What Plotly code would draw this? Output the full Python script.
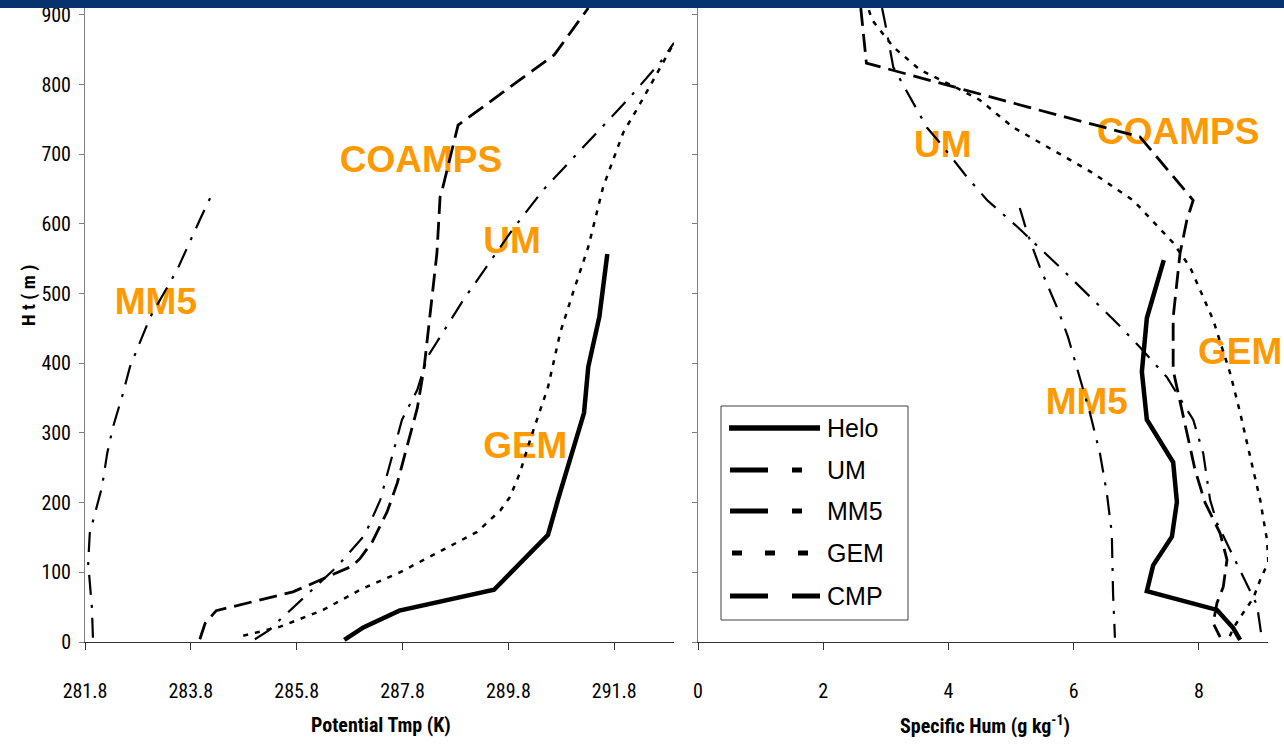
import plotly.graph_objects as go

# ---------------- data ----------------
# Left panel: potential temperature (K) against height (m)
theta_helo = [286.70, 287.06, 287.74, 289.53, 290.55, 290.74, 291.23, 291.31, 291.52, 291.67]
theta_helo_ht = [3, 21, 45, 75, 154, 205, 329, 395, 467, 557]

theta_um = [285.01, 285.26, 286.56, 287.09, 287.38, 287.68, 287.79, 288.08, 288.27, 288.95,
            289.87, 290.46, 291.21, 292.05, 292.67, 292.93]
theta_um_ht = [4, 16, 108, 154, 204, 287, 319, 362, 409, 491, 591, 649, 710, 778, 832, 860]

theta_mm5 = [281.95, 281.93, 281.86, 281.89, 281.99, 282.12, 282.22, 282.33, 282.50, 282.65,
             283.03, 283.54, 283.97, 284.22]
theta_mm5_ht = [6, 50, 113, 156, 185, 222, 271, 309, 352, 395, 466, 534, 606, 646]

theta_gem = [284.79, 285.49, 286.30, 287.00, 287.75, 288.45, 289.21, 289.65, 289.83, 290.02,
             290.21, 290.55, 290.78, 291.02, 291.31, 291.59, 291.97, 292.33, 292.93]
theta_gem_ht = [9, 22, 46, 75, 100, 128, 158, 189, 208, 243, 290, 366, 444, 501, 567, 653,
                731, 778, 860]

theta_cmp = [283.97, 284.07, 284.28, 285.73, 286.85, 287.00, 287.23, 287.51, 287.70, 288.08,
             288.21, 288.32, 288.45, 288.51, 288.55, 288.85, 290.67, 291.31]
theta_cmp_ht = [4, 27, 45, 72, 109, 120, 144, 187, 228, 336, 395, 472, 558, 639, 649, 742,
                843, 910]

# Right panel: specific humidity (g/kg) against height (m)
q_helo = [8.66, 8.55, 8.29, 7.17, 7.27, 7.57, 7.65, 7.59, 7.17, 7.09, 7.17, 7.44]
q_helo_ht = [3, 20, 46, 73, 110, 151, 201, 258, 319, 388, 465, 548]

q_um = [2.94, 2.99, 3.12, 3.39, 3.66, 3.87, 4.30, 4.62, 5.10, 5.78, 6.69, 7.06, 7.49, 7.91,
        8.07, 8.18, 8.29, 8.50, 8.74, 8.93, 9.01]
q_um_ht = [910, 888, 825, 782, 738, 716, 667, 634, 596, 538, 458, 423, 380, 319, 271, 204,
           171, 132, 89, 53, 3]

q_mm5 = [5.14, 5.26, 5.46, 5.75, 5.91, 6.10, 6.26, 6.42, 6.53, 6.61, 6.63, 6.66]
q_mm5_ht = [623, 587, 538, 477, 438, 380, 329, 271, 214, 156, 70, 6]

q_gem = [2.73, 2.78, 3.12, 3.55, 4.14, 4.50, 5.03, 5.67, 6.31, 6.95, 7.59, 7.86, 8.23, 8.50,
         8.66, 8.82, 8.98, 9.09, 9.11, 8.98, 8.87, 8.71, 8.55, 8.47]
q_gem_ht = [907, 893, 854, 821, 795, 778, 739, 706, 673, 634, 573, 538, 462, 386, 329, 266,
            204, 146, 115, 89, 63, 42, 20, 3]

q_cmp = [2.60, 2.69, 5.26, 7.06, 7.91, 7.81, 7.70, 7.59, 7.59, 7.73, 7.94, 8.10, 8.34, 8.45,
         8.39, 8.29, 8.23, 8.34]
q_cmp_ht = [910, 831, 768, 725, 634, 606, 558, 466, 390, 333, 247, 200, 156, 118, 79, 56, 27, 7]

# Orange model labels placed inside the panels
left_label_text = ["COAMPS", "UM", "MM5", "GEM"]
left_label_x = [288.15, 289.87, 283.14, 290.12]
left_label_y = [688, 572, 484, 278]
right_label_text = ["UM", "COAMPS", "GEM", "MM5"]
right_label_x = [3.91, 7.67, 8.66, 6.21]
right_label_y = [710, 728, 412, 340]

# Axis ticks
theta_ticks = [281.8, 283.8, 285.8, 287.8, 289.8, 291.8]
theta_tick_text = ["281.8", "283.8", "285.8", "287.8", "289.8", "291.8"]
q_ticks = [0, 2, 4, 6, 8]
ht_ticks = [0, 100, 200, 300, 400, 500, 600, 700, 800, 900]

legend_names = ["Helo", "UM", "MM5", "GEM", "CMP"]

# ---------------- styling ----------------
W, H = 1284, 746
L, R, T, B = 85, 16, 0, 104
PW, PH = W - L - R, H - T - B


def px(xp):
    return (xp - L) / PW


def py(yp):
    return (H - B - yp) / PH


NARROW = "Liberation Sans Narrow, Arial Narrow, Roboto Condensed, DejaVu Sans Condensed, sans-serif"
ARIAL = "Liberation Sans, Arial, Helvetica, sans-serif"
ORANGE = "#FF9900"

styles = {
    "Helo": dict(color="black", width=4.5, dash="solid"),
    "UM": dict(color="black", width=2.2, dash="20px,10px,3px,10px"),
    "MM5": dict(color="black", width=2.2, dash="20px,10px,3px,10px"),
    "GEM": dict(color="black", width=2.5, dash="5px,7px"),
    "CMP": dict(color="black", width=2.8, dash="18px,8px"),
}

fig = go.Figure()

# labels first so the profile lines are drawn over them
fig.add_trace(go.Scatter(x=left_label_x, y=left_label_y, mode="text",
                         text=["<b>%s</b>" % t for t in left_label_text],
                         textfont=dict(size=37, color=ORANGE, family=ARIAL),
                         cliponaxis=False, showlegend=False, hoverinfo="skip",
                         xaxis="x", yaxis="y"))
fig.add_trace(go.Scatter(x=right_label_x, y=right_label_y, mode="text",
                         text=["<b>%s</b>" % t for t in right_label_text],
                         textfont=dict(size=37, color=ORANGE, family=ARIAL),
                         cliponaxis=False, showlegend=False, hoverinfo="skip",
                         xaxis="x2", yaxis="y2"))

left_series = [("Helo", theta_helo, theta_helo_ht), ("UM", theta_um, theta_um_ht),
               ("MM5", theta_mm5, theta_mm5_ht), ("GEM", theta_gem, theta_gem_ht),
               ("CMP", theta_cmp, theta_cmp_ht)]
right_series = [("Helo", q_helo, q_helo_ht), ("UM", q_um, q_um_ht),
                ("MM5", q_mm5, q_mm5_ht), ("GEM", q_gem, q_gem_ht),
                ("CMP", q_cmp, q_cmp_ht)]

for name, xs, ys in left_series:
    fig.add_trace(go.Scatter(x=xs, y=ys, mode="lines", name=name, line=styles[name],
                             showlegend=False, xaxis="x", yaxis="y"))
for name, xs, ys in right_series:
    fig.add_trace(go.Scatter(x=xs, y=ys, mode="lines", name=name, line=styles[name],
                             showlegend=False, xaxis="x2", yaxis="y2"))

tickfont = dict(family=NARROW, size=20, color="black")
xcommon = dict(showgrid=False, zeroline=False, showline=True, linecolor="#333333", linewidth=1,
               ticks="outside", ticklen=7, tickcolor="#333333", tickwidth=1,
               tickfont=tickfont, ticklabelstandoff=24)
ycommon = dict(showgrid=False, zeroline=False, showline=True, linecolor="#808080", linewidth=1,
               ticks="outside", ticklen=5, tickcolor="#808080", tickwidth=1,
               tickfont=tickfont, tickvals=ht_ticks)

ymax = (H - B) / 0.6967

fig.update_layout(
    width=W, height=H, autosize=False,
    margin=dict(l=L, r=R, t=T, b=B, pad=0),
    paper_bgcolor="white", plot_bgcolor="white",
    showlegend=False,
    xaxis=dict(**xcommon, domain=[0, px(674)], range=[281.8, 292.93],
               tickvals=theta_ticks, ticktext=theta_tick_text, anchor="y"),
    xaxis2=dict(**xcommon, domain=[px(698), 1], range=[0, 9.105],
                tickvals=q_ticks, anchor="y2"),
    yaxis=dict(**ycommon, range=[0, ymax], anchor="x", ticklabelstandoff=4),
    yaxis2=dict(**ycommon, range=[0, ymax], anchor="x2", showticklabels=False),
)

shapes = []
annotations = []

# dark banner across the top edge
shapes.append(dict(type="rect", xref="paper", yref="paper", x0=px(0), x1=px(W),
                   y0=py(8), y1=py(0), fillcolor="#06336E", line=dict(width=0), layer="above"))

# legend box
shapes.append(dict(type="rect", xref="paper", yref="paper", x0=px(721), x1=px(908),
                   y0=py(620), y1=py(406), fillcolor="white",
                   line=dict(color="#404040", width=1), layer="above"))
legend_rows = [428, 470, 511, 553, 596]
legend_dash = {"Helo": "solid", "UM": "38px,24px,10px,40px", "MM5": "38px,24px,10px,40px",
               "GEM": "10px,23px", "CMP": "38px,24px"}
legend_x0 = {"Helo": 729, "UM": 730, "MM5": 730, "GEM": 732, "CMP": 730}
for name, yr in zip(legend_names, legend_rows):
    shapes.append(dict(type="line", xref="paper", yref="paper", x0=px(legend_x0[name]),
                       x1=px(820), y0=py(yr), y1=py(yr),
                       line=dict(color="black", width=5.5 if name == "Helo" else 5,
                                 dash=legend_dash[name]), layer="above"))
    annotations.append(dict(xref="paper", yref="paper", x=px(825), y=py(yr), text=name,
                            showarrow=False, xanchor="left", yanchor="middle",
                            font=dict(family=ARIAL, size=25, color="black")))

# axis titles
annotations.append(dict(xref="paper", yref="paper", x=px(381), y=py(725),
                        text="<b>Potential Tmp (K)</b>", showarrow=False,
                        xanchor="center", yanchor="middle",
                        font=dict(family=NARROW, size=20, color="black")))
annotations.append(dict(xref="paper", yref="paper", x=px(985), y=py(725),
                        text="<b>Specific Hum (g kg<sup>-1</sup>)</b>", showarrow=False,
                        xanchor="center", yanchor="middle",
                        font=dict(family=NARROW, size=20, color="black")))
annotations.append(dict(xref="paper", yref="paper", x=px(28), y=py(296),
                        text="<b>H t ( m )</b>", showarrow=False, textangle=-90,
                        xanchor="center", yanchor="middle",
                        font=dict(family=NARROW, size=19, color="black")))

fig.update_layout(shapes=shapes, annotations=annotations)

fig.write_html("out.html", config={"displayModeBar": False},
               post_script="document.body.style.margin='0';document.body.style.overflow='hidden';")
